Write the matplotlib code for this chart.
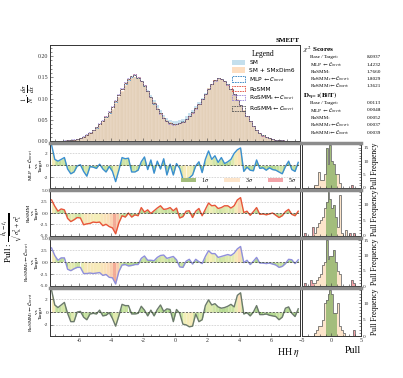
import numpy as np
import matplotlib
matplotlib.use("Agg")
import matplotlib.pyplot as plt
from matplotlib.colors import LinearSegmentedColormap, Normalize
from matplotlib.patches import Patch
from matplotlib.ticker import MultipleLocator, AutoMinorLocator

plt.rcParams['font.family'] = ['Liberation Serif', 'DejaVu Serif']
plt.rcParams['mathtext.fontset'] = 'stix'

# ---- data ----
eta_range = (-7.8, 7.8)

sm = [0.0003, 0.0004, 0.0005, 0.0007, 0.0010, 0.0014, 0.0020, 0.0029, 0.0046, 0.0065,
      0.0094, 0.0132, 0.0172, 0.0228, 0.0288, 0.0358, 0.0434, 0.0522, 0.0620, 0.0738,
      0.0868, 0.1015, 0.1160, 0.1300, 0.1410, 0.1480, 0.1500, 0.1480, 0.1410, 0.1320,
      0.1210, 0.1080, 0.0960, 0.0840, 0.0720, 0.0620, 0.0550, 0.0500, 0.0475, 0.0470,
      0.0490, 0.0530, 0.0590, 0.0660, 0.0740, 0.0830, 0.0920, 0.1020, 0.1130, 0.1240,
      0.1340, 0.1420, 0.1460, 0.1450, 0.1400, 0.1320, 0.1220, 0.1100, 0.0970, 0.0840,
      0.0710, 0.0580, 0.0460, 0.0352, 0.0263, 0.0185, 0.0127, 0.0088, 0.0059, 0.0039,
      0.0029, 0.0019, 0.0013, 0.0009, 0.0006, 0.0004, 0.0003, 0.0002]

target = [0.0003, 0.0004, 0.0005, 0.0007, 0.0010, 0.0015, 0.0021, 0.0030, 0.0048, 0.0068,
          0.0098, 0.0138, 0.0180, 0.0238, 0.0300, 0.0372, 0.0450, 0.0540, 0.0640, 0.0760,
          0.0890, 0.1040, 0.1180, 0.1315, 0.1425, 0.1490, 0.1510, 0.1480, 0.1400, 0.1300,
          0.1180, 0.1040, 0.0910, 0.0780, 0.0660, 0.0560, 0.0490, 0.0440, 0.0410, 0.0410,
          0.0430, 0.0470, 0.0530, 0.0600, 0.0680, 0.0780, 0.0880, 0.0990, 0.1110, 0.1240,
          0.1350, 0.1430, 0.1470, 0.1460, 0.1410, 0.1330, 0.1230, 0.1110, 0.0980, 0.0850,
          0.0720, 0.0590, 0.0470, 0.0360, 0.0270, 0.0190, 0.0130, 0.0090, 0.0060, 0.0040,
          0.0030, 0.0020, 0.0013, 0.0009, 0.0006, 0.0004, 0.0003, 0.0002]

mlp = [0.0004, 0.0004, 0.0006, 0.0008, 0.0011, 0.0016, 0.0023, 0.0032, 0.0050, 0.0072,
       0.0102, 0.0145, 0.0190, 0.0250, 0.0318, 0.0392, 0.0470, 0.0565, 0.0668, 0.0795,
       0.0930, 0.1080, 0.1220, 0.1350, 0.1450, 0.1520, 0.1560, 0.1490, 0.1410, 0.1300,
       0.1170, 0.1030, 0.0880, 0.0760, 0.0650, 0.0545, 0.0470, 0.0420, 0.0395, 0.0400,
       0.0420, 0.0460, 0.0520, 0.0595, 0.0675, 0.0770, 0.0875, 0.0985, 0.1105, 0.1235,
       0.1345, 0.1430, 0.1480, 0.1465, 0.1415, 0.1335, 0.1230, 0.1105, 0.0975, 0.0850,
       0.0715, 0.0585, 0.0465, 0.0358, 0.0268, 0.0190, 0.0130, 0.0090, 0.0060, 0.0040,
       0.0030, 0.0020, 0.0013, 0.0009, 0.0006, 0.0004, 0.0003, 0.0002]

rosmm = [0.0004, 0.0005, 0.0006, 0.0008, 0.0011, 0.0017, 0.0024, 0.0034, 0.0052, 0.0074,
         0.0106, 0.0150, 0.0196, 0.0258, 0.0326, 0.0402, 0.0482, 0.0578, 0.0680, 0.0808,
         0.0945, 0.1095, 0.1235, 0.1365, 0.1465, 0.1535, 0.1570, 0.1500, 0.1420, 0.1310,
         0.1180, 0.1040, 0.0890, 0.0765, 0.0650, 0.0550, 0.0470, 0.0415, 0.0390, 0.0395,
         0.0418, 0.0458, 0.0518, 0.0592, 0.0672, 0.0768, 0.0872, 0.0982, 0.1102, 0.1232,
         0.1342, 0.1428, 0.1478, 0.1462, 0.1412, 0.1332, 0.1228, 0.1102, 0.0972, 0.0848,
         0.0712, 0.0582, 0.0462, 0.0355, 0.0266, 0.0188, 0.0129, 0.0089, 0.0059, 0.0040,
         0.0030, 0.0020, 0.0013, 0.0009, 0.0006, 0.0004, 0.0003, 0.0002]

rosmm_s = [0.0004, 0.0005, 0.0006, 0.0009, 0.0012, 0.0018, 0.0025, 0.0036, 0.0055, 0.0078,
           0.0110, 0.0156, 0.0204, 0.0268, 0.0338, 0.0416, 0.0498, 0.0596, 0.0700, 0.0830,
           0.0968, 0.1118, 0.1258, 0.1385, 0.1480, 0.1545, 0.1580, 0.1510, 0.1425, 0.1312,
           0.1182, 0.1040, 0.0888, 0.0762, 0.0648, 0.0548, 0.0468, 0.0412, 0.0388, 0.0392,
           0.0415, 0.0455, 0.0515, 0.0590, 0.0670, 0.0765, 0.0870, 0.0980, 0.1100, 0.1230,
           0.1340, 0.1426, 0.1476, 0.1460, 0.1410, 0.1330, 0.1226, 0.1100, 0.0970, 0.0846,
           0.0710, 0.0580, 0.0460, 0.0354, 0.0265, 0.0187, 0.0128, 0.0088, 0.0059, 0.0040,
           0.0030, 0.0020, 0.0013, 0.0009, 0.0006, 0.0004, 0.0003, 0.0002]

rosmm_t = [0.0004, 0.0004, 0.0006, 0.0008, 0.0011, 0.0016, 0.0023, 0.0033, 0.0051, 0.0073,
           0.0104, 0.0148, 0.0194, 0.0255, 0.0322, 0.0398, 0.0478, 0.0572, 0.0675, 0.0802,
           0.0938, 0.1088, 0.1228, 0.1358, 0.1458, 0.1528, 0.1565, 0.1495, 0.1415, 0.1305,
           0.1175, 0.1035, 0.0885, 0.0762, 0.0650, 0.0548, 0.0470, 0.0418, 0.0392, 0.0398,
           0.0419, 0.0459, 0.0519, 0.0594, 0.0674, 0.0769, 0.0874, 0.0984, 0.1104, 0.1234,
           0.1344, 0.1429, 0.1479, 0.1464, 0.1414, 0.1334, 0.1229, 0.1104, 0.0974, 0.0849,
           0.0714, 0.0584, 0.0464, 0.0357, 0.0267, 0.0189, 0.0130, 0.0090, 0.0060, 0.0040,
           0.0030, 0.0020, 0.0013, 0.0009, 0.0006, 0.0004, 0.0003, 0.0002]

pull_mlp = [3.4, 1.0, 0.7, 1.0, 1.3, -0.6, -1.4, -1.1, -0.1, 0.1,
            -1.0, -1.8, -0.2, -0.3, -0.5, 0.2, -0.6, -1.1, -0.2, -1.0,
            -2.7, -0.8, 1.3, 1.1, 1.2, -1.1, -1.1, -0.8, 0.6, 1.4,
            -0.7, 0.9, -1.3, 0.7, -0.6, 1.1, -1.6, 0.2, -1.6, 0.3,
            -0.5, -2.3, -2.3, -2.1, -1.6, -0.1, 0.6, -1.2, 1.0, 2.4,
            1.0, 1.6, 0.5, 1.3, 0.3, 0.6, 1.0, 2.0, 2.6, 2.9,
            -1.0, -0.3, -0.8, -0.9, 0.9, -0.5, -0.4, -0.8, -0.4, -0.7,
            -0.8, -1.1, -1.4, -0.2, 0.7, -0.7, -1.0, 0.5]

pull_rosmm = [2.9, 1.5, 0.4, 0.9, 0.7, -1.2, -1.9, -1.5, -1.0, -1.1,
              -2.6, -2.4, -2.3, -2.0, -2.1, -2.0, -2.8, -2.5, -3.0, -3.3,
              -4.6, -2.2, -0.6, -0.9, 0.0, -0.9, -0.4, -0.6, 1.2, 0.2,
              0.7, -0.1, 0.5, 1.1, 1.6, 0.8, 0.9, 1.2, 0.5, 1.1,
              -1.1, -0.8, 0.4, 0.5, -1.0, 0.4, 1.0, -0.6, 0.8, 2.2,
              1.6, 1.7, 1.0, 1.2, 1.6, 1.6, 1.1, 1.6, 2.9, 3.4,
              0.1, 0.4, -0.5, 0.3, 1.2, -0.3, -0.2, -0.4, -0.2, 0.0,
              -0.5, -1.0, -0.6, 0.3, 0.8, -0.3, -0.6, 0.4]

pull_rosmm_s = [3.0, 1.4, 0.4, 0.9, 0.9, -1.5, -1.8, -1.4, -1.1, -1.1,
                -2.4, -2.4, -2.3, -2.4, -2.3, -2.2, -2.8, -2.6, -3.2, -3.3,
                -4.6, -2.0, -0.6, -0.5, -0.8, -0.7, -0.5, -0.5, 0.8, 1.3,
                0.4, 0.4, 0.3, 1.0, 1.4, 1.5, 0.8, 1.0, 1.2, 0.5,
                -1.0, -1.1, 0.2, 0.6, -0.4, 0.6, 0.1, -0.3, 1.2, 2.4,
                1.8, 1.8, 1.0, 1.2, 1.4, 1.6, 1.4, 1.9, 2.8, 3.3,
                -0.1, 0.4, -0.5, 0.2, 1.0, -0.2, -0.2, -0.3, -0.2, -0.4,
                -0.6, -1.1, -0.9, -0.3, 0.6, 0.5, -0.3, 0.5]

pull_rosmm_t = [3.4, 1.1, 0.7, 1.1, 1.5, -0.2, -1.5, -1.5, 0.0, 0.1,
                -0.8, -1.2, -0.3, -0.2, -0.3, 0.3, -0.6, -0.5, -0.1, -1.0,
                -2.2, -0.6, 1.2, 1.0, 1.0, -0.3, -0.3, -0.2, 0.9, 0.3,
                -0.6, 0.3, -0.6, 0.4, 1.1, 0.1, 0.5, 0.4, -1.5, 0.4,
                -0.2, -1.9, -2.0, -2.3, -2.2, -0.3, -1.5, -1.2, 1.0, 1.9,
                1.1, 1.3, 0.8, 0.6, 0.7, 0.9, 1.2, 0.8, 2.6, 3.0,
                -0.3, -0.1, -0.6, 0.0, 1.0, -0.4, -0.4, -0.3, -0.5, -0.6,
                -0.7, -1.2, -0.8, 0.6, 0.8, -0.2, -0.7, 0.5]

# pull frequency per bin (30 bins on [-5, 5])
freq_mlp = [0, 0, 0, 0, 0, 0, 1, 1, 6, 3, 3, 5, 15, 9, 16, 10, 9, 5, 5, 2, 0, 0, 0, 0, 0, 1, 0, 0, 0, 0]
freq_rosmm = [0, 1, 0, 0, 0, 3, 1, 3, 4, 5, 6, 9, 11, 14, 12, 9, 10, 6, 3, 13, 1, 0, 2, 0, 1, 0, 1, 0, 0, 0]
freq_rosmm_s = [0, 1, 0, 0, 2, 1, 1, 2, 3, 4, 7, 8, 15, 9, 10, 10, 12, 8, 5, 4, 0, 0, 0, 0, 0, 2, 1, 0, 0, 0]
freq_rosmm_t = [0, 0, 0, 0, 0, 0, 1, 2, 3, 3, 5, 10, 11, 13, 14, 13, 7, 7, 10, 3, 2, 1, 0, 0, 0, 0, 2, 0, 0, 0]

chi2_labels = ["Base / Target:", r"MLP $\leftarrow \mathcal{C}_{invert}$:", "RoSMM:",
               r"RoSMM$_s\leftarrow \mathcal{C}_{invert}$:", r"RoSMM$_t\leftarrow \mathcal{C}_{invert}$:"]
chi2_values = ["8.0937", "1.4232", "1.7660", "1.8029", "1.3621"]
div_values = ["0.0113", "0.0048", "0.0052", "0.0037", "0.0039"]

# ---- styling ----
C_SM = '#9ecae1'
C_TGT = '#fdc48f'
line_cols = ['#3a8fd0', '#e8553a', '#8f8fdc', '#6b7a6b']
step_cols = ['#2c7fc0', '#e04a3a', '#9a86d8', '#555555']
G1, G3, G5 = '#a3bd7c', '#fde5cb', '#f2a3a8'
SEP = '#8c8c8c'
pull_cmap = LinearSegmentedColormap.from_list(
    'pull', ['#86c267', '#c2df96', '#f4efb2', '#fdd8b2', '#f2a08a', '#d63e50'])
pull_norm = Normalize(0, 5)

edges = np.linspace(eta_range[0], eta_range[1], len(target) + 1)
centers = 0.5 * (edges[1:] + edges[:-1])
pull_edges = np.linspace(-5, 5, 31)
pull_centers = 0.5 * (pull_edges[1:] + pull_edges[:-1])


def style_ax(ax, labelsize=4.3):
    ax.tick_params(which='both', direction='in', labelsize=labelsize, width=0.4,
                   colors='#333333', pad=1.5)
    ax.tick_params(which='major', length=2.2)
    ax.tick_params(which='minor', length=1.2)
    for s in ax.spines.values():
        s.set_linewidth(0.7)
        s.set_color('#333333')


fig = plt.figure(figsize=(4.03, 3.78), dpi=100)

# ---- top distribution panel ----
ax0 = fig.add_axes([0.124, 0.627, 0.620, 0.254])
ax0.bar(centers, sm, width=0.2, color=C_SM, alpha=0.6, edgecolor='white', linewidth=0.15, label='SM')
ax0.bar(centers, target, width=0.2, color=C_TGT, alpha=0.55, edgecolor='white', linewidth=0.15,
        label='SM + SMxDim6')
model_vals = [mlp, rosmm, rosmm_s, rosmm_t]
model_names = [r"MLP $\leftarrow \mathcal{C}_{invert}$", "RoSMM",
               r"RoSMM$_s\leftarrow \mathcal{C}_{invert}$", r"RoSMM$_t\leftarrow \mathcal{C}_{invert}$"]
for vals, col in zip(model_vals, step_cols):
    ax0.stairs(vals, edges, color=col, linestyle=(0, (2, 1)), linewidth=0.6, alpha=0.85)
ax0.set_xlim(*eta_range)
ax0.set_ylim(0, 1.5 * max(target))
ax0.set_xticks(np.arange(-6, 7, 2))
ax0.xaxis.set_minor_locator(AutoMinorLocator(4))
ax0.yaxis.set_minor_locator(AutoMinorLocator(5))
ax0.set_yticks([0, 0.05, 0.10, 0.15, 0.20])
ax0.set_yticklabels(['0.00', '0.05', '0.10', '0.15', '0.20'])
ax0.tick_params(labelbottom=False)
style_ax(ax0)
ax0.set_ylabel(r"$\frac{1}{N}\cdot\frac{d\sigma}{dx}$", fontsize=6.5, labelpad=0)
ax0.set_title("SMEFT", loc='right', fontsize=5, fontweight='bold', pad=2)

handles = [Patch(facecolor=C_SM, alpha=0.6, label='SM'),
           Patch(facecolor=C_TGT, alpha=0.55, label='SM + SMxDim6')]
for name, col in zip(model_names, step_cols):
    handles.append(Patch(facecolor='none', edgecolor=col, linestyle=(0, (2, 1)), linewidth=0.6, label=name))
leg = ax0.legend(handles=handles, loc='upper right', title='Legend', title_fontsize=5.5,
                 frameon=False, handlelength=2.2, handleheight=1.0, labelspacing=0.35,
                 borderaxespad=0.4, prop={'family': ['DejaVu Sans'], 'size': 4.2})

# ---- stats text ----
fig.text(0.752, 0.868, r"$\chi^2$ Scores", fontsize=5.2, fontweight='bold', va='center')
row_y = [0.849, 0.829, 0.810, 0.791, 0.772]
for lab, val, y in zip(chi2_labels, chi2_values, row_y):
    fig.text(0.770, y, lab, fontsize=3.7, va='center')
    fig.text(0.910, y, val, fontsize=3.7, va='center')
fig.text(0.752, 0.747, r"$\mathbf{D_{\eta=1}(B||T)}$", fontsize=5.0, va='center')
row_y2 = [0.727, 0.708, 0.688, 0.669, 0.649]
for lab, val, y in zip(chi2_labels, div_values, row_y2):
    fig.text(0.770, y, lab, fontsize=3.7, va='center')
    fig.text(0.910, y, val, fontsize=3.7, va='center')

# ---- pull panels ----
pulls = [pull_mlp, pull_rosmm, pull_rosmm_s, pull_rosmm_t]
freqs = [freq_mlp, freq_rosmm, freq_rosmm_s, freq_rosmm_t]
pull_names = [r"MLP $\leftarrow \mathcal{C}_{invert}$", "RoSMM",
              r"RoSMM$_s\leftarrow \mathcal{C}_{invert}$", r"RoSMM$_t\leftarrow \mathcal{C}_{invert}$"]
bottoms = [0.503, 0.376, 0.243, 0.111]
heights = [0.119, 0.121, 0.127, 0.127]
steps = [2, 2.5, 2.5, 2]

for k in range(4):
    p = np.array(pulls[k])
    ax = fig.add_axes([0.124, bottoms[k], 0.620, heights[k]])
    for i in range(len(p) - 1):
        c = pull_cmap(pull_norm(abs(p[i] + p[i + 1]) / 2))
        ax.fill_between(centers[i:i + 2], p[i:i + 2], 0, color=c, alpha=0.9, linewidth=0)
    ax.plot(centers, p, color=line_cols[k], linewidth=1.0)
    lim = 1.1 * np.max(np.abs(p))
    ax.set_ylim(-lim, lim)
    ax.set_xlim(*eta_range)
    ax.yaxis.set_major_locator(MultipleLocator(steps[k]))
    if steps[k] == 2.5:
        ax.yaxis.set_major_formatter(lambda v, pos: f"{v:.1f}")
    else:
        ax.yaxis.set_major_formatter(lambda v, pos: f"{v:.0f}")
    for t in ax.get_yticks():
        if abs(t) > 1e-9 and abs(t) <= lim:
            ax.axhline(t, color='#bbbbbb', linestyle=(0, (3, 2)), linewidth=0.4, zorder=0)
    ax.axhline(0, color='#333333', linestyle=(0, (3, 2)), linewidth=0.5)
    ax.set_xticks(np.arange(-6, 7, 2))
    ax.xaxis.set_minor_locator(AutoMinorLocator(4))
    style_ax(ax)
    ax.tick_params(axis='y', labelsize=3.8)
    ax.spines['top'].set_linewidth(2.5)
    ax.spines['top'].set_color(SEP)
    ax.set_ylabel(pull_names[k] + "\nvs\nTarget", fontsize=3.8, labelpad=0.5, linespacing=1.0)
    if k < 3:
        ax.tick_params(labelbottom=False)
    else:
        ax.set_xticklabels([f"{v:d}" for v in range(-6, 7, 2)])
        ax.set_xlabel(r"HH $\eta$", loc='right', fontsize=7, labelpad=2)
    if k == 0:
        ax.legend(handles=[Patch(facecolor=G1, label=r'1$\sigma$'),
                           Patch(facecolor=G3, label=r'3$\sigma$'),
                           Patch(facecolor=G5, label=r'5$\sigma$')],
                  loc='lower right', ncol=3, fontsize=4.3, frameon=False,
                  handlelength=2.6, columnspacing=2.5, borderaxespad=0.2)

    # pull frequency histogram
    axh = fig.add_axes([0.749, bottoms[k], 0.147, heights[k]])
    cols = [G1 if abs(c) < 1 else (G3 if abs(c) < 3 else G5) for c in pull_centers]
    axh.bar(pull_centers, freqs[k], width=pull_edges[1] - pull_edges[0], color=cols, linewidth=0)
    axh.stairs(freqs[k], pull_edges, color='#707070', linewidth=0.6)
    axh.set_xlim(-5, 5)
    axh.set_ylim(0, 1.05 * max(freqs[k]))
    axh.set_xticks([-5, 0, 5])
    axh.yaxis.set_major_locator(MultipleLocator(5))
    axh.xaxis.set_minor_locator(AutoMinorLocator(5))
    axh.yaxis.set_minor_locator(AutoMinorLocator(5))
    style_ax(axh)
    axh.tick_params(axis='y', labelsize=3.8)
    axh.yaxis.tick_right()
    axh.yaxis.set_label_position('right')
    axh.set_ylabel("Pull Frequency", fontsize=5.5, labelpad=2)
    axh.spines['top'].set_linewidth(2.5)
    axh.spines['top'].set_color(SEP)
    if k < 3:
        axh.tick_params(labelbottom=False)
    else:
        axh.set_xlabel("Pull", loc='right', fontsize=7, labelpad=2)

fig.text(0.030, 0.37, r"Pull : $\frac{h_i - t_i}{\sqrt{\sigma^2_{h_i}+\sigma^2_{t_i}}}$",
         rotation=90, fontsize=6.6, ha='center', va='center')

fig.savefig("out.png", dpi=100)
